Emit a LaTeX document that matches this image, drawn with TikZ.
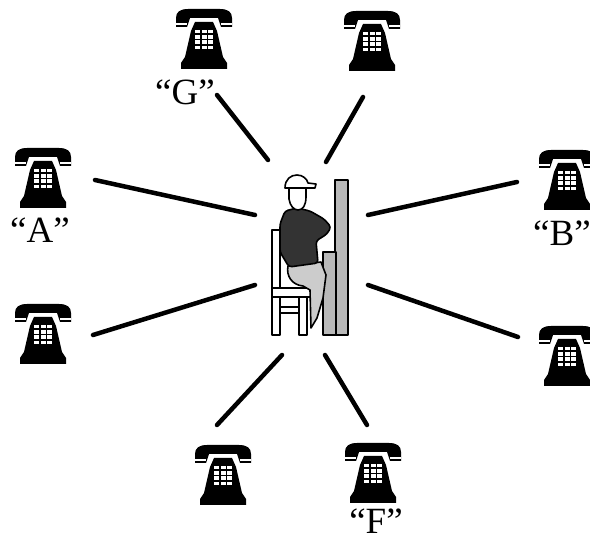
\documentclass[tikz,border=0pt]{standalone}
\usepackage{fontspec}
\setmainfont{Liberation Serif}

\begin{document}
\begin{tikzpicture}[
    x=1pt, y=-1pt,
    wire/.style={line width=4.5pt, line cap=round},
    tag/.style={anchor=base, inner sep=0pt, font=\fontsize{37}{37}\selectfont},
    part/.style={draw, line width=1.6pt, line join=round},
    phone/.pic={
        % handset resting on the cradle
        \fill (-28,-12) -- (-28,-21) .. controls (-28,-27) and (-24,-30) .. (-16,-30)
            -- (16,-30) .. controls (24,-30) and (28,-27) .. (28,-21) -- (28,-12)
            -- (17,-12) -- (14,-21) -- (-14,-21) -- (-17,-12) -- cycle;
        \draw[white, line width=1.6pt] (-28,-15) -- (-17,-15) (17,-15) -- (28,-15);
        % body
        \fill (-9,-17) -- (9,-17) -- (13,-8) -- (19,18) -- (23,24) -- (23,30)
            -- (-23,30) -- (-23,24) -- (-19,18) -- (-13,-8) -- cycle;
        % dial buttons
        \foreach \r in {0,...,3}
            \foreach \c in {-1,0,1}
                \fill[white] ({6.5*\c-2.5},{-9+5.2*\r}) rectangle ++(5,3.4);
    },
]
    \useasboundingbox (0,0) rectangle (590,540);

    % telephones round the operator
    \foreach \p/\x/\y in {pa/43/178, pg/204/39, pn/372/41, pb/567/180,
                          pl/43/334, pr/567/356, ps/223/475, pf/373/473}
        \pic (\p) at (\x,\y) {phone};

    \node[tag] (la) at (40,243) {``A''};
    \node[tag] (lg) at (185,105) {``G''};
    \node[tag] (lb) at (562,246) {``B''};
    \node[tag] (lf) at (376,533) {``F''};

    % switchboard
    \draw[part, fill=gray!55] (335,180) rectangle (348,335);
    \draw[part, fill=gray!55] (323,252) rectangle (336,335);

    % chair
    \draw[part, fill=white] (272,230) rectangle (280,289);
    \draw[part, fill=white] (272,288) rectangle (311,297);
    \draw[part, fill=white] (272,297) rectangle (280,335);
    \draw[part, fill=white] (299,297) rectangle (307,335);
    \draw[part, fill=white] (280,307) rectangle (299,313);

    % operator
    \draw[part, fill=gray!40] (288,266) .. controls (286,276) and (292,285) .. (303,286)
        -- (310,290) -- (311,328) -- (317,318) -- (323,298) -- (326,275) -- (321,262) -- cycle;
    \draw[part, fill=black!80, rounded corners=3pt] (280,224) -- (285,211) -- (297,208)
        -- (310,211) -- (324,219) -- (331,227) -- (327,234) -- (316,241) -- (318,263)
        -- (289,267) -- (280,252) -- cycle;
    \draw[part, fill=white] (289,187) -- (289,199) .. controls (290,206) and (294,210) .. (298,210)
        .. controls (303,210) and (306,205) .. (306,197) -- (306,187);
    \draw[part, fill=white] (285,188) .. controls (285,179) and (291,175) .. (297,175)
        .. controls (303,175) and (307,179) .. (308,183) -- (316,184) -- (315,188) -- cycle;

    % line ends
    \coordinate (a0) at (95,180);   \coordinate (a1) at (255,215);
    \coordinate (g0) at (217,95);   \coordinate (g1) at (268,160);
    \coordinate (n0) at (363,97);   \coordinate (n1) at (326,162);
    \coordinate (b0) at (517,182);  \coordinate (b1) at (368,215);
    \coordinate (l0) at (93,335);   \coordinate (l1) at (255,285);
    \coordinate (r0) at (518,337);  \coordinate (r1) at (368,285);
    \coordinate (s0) at (217,425);  \coordinate (s1) at (282,355);
    \coordinate (f0) at (367,425);  \coordinate (f1) at (325,355);

    \foreach \w in {a, g, n, b, l, r, s, f}
        \draw[wire] (\w0) -- (\w1);
\end{tikzpicture}
\end{document}
